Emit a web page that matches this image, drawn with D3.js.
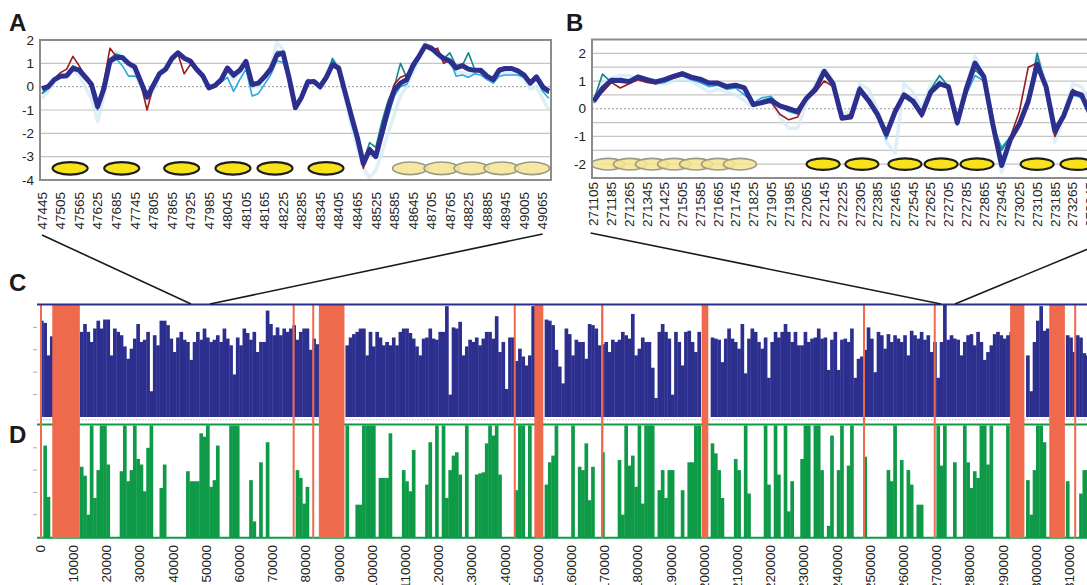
<!DOCTYPE html>
<html><head><meta charset="utf-8">
<script src="https://cdn.jsdelivr.net/npm/d3@7"></script>
<style>body{margin:0;background:#fff;overflow:hidden}svg{display:block}</style>
</head><body><svg id="c" width="1087" height="585"></svg>
<script>
// ---------- Panel A data (20 bp steps from 47445) ----------
const aStart = 47445, aStep = 20;
const aNavy = [-0.08,0.0,0.3,0.45,0.47,0.78,0.72,0.42,0.1,-0.85,
 -0.1,1.1,1.25,1.25,1.0,0.85,0.2,-0.45,0.05,0.55,
 0.75,1.2,1.45,1.22,1.1,0.75,0.47,-0.05,0.05,0.3,
 0.8,0.5,0.7,1.08,0.1,0.15,0.42,0.75,1.35,1.45,
 0.35,-0.9,-0.45,0.2,0.22,0.0,0.4,0.95,0.8,-0.2,
 -1.2,-2.15,-3.3,-2.7,-3.0,-2.0,-0.95,-0.15,0.15,0.3,
 0.9,1.3,1.75,1.65,1.42,1.2,1.1,0.8,0.9,0.75,
 0.7,0.7,0.45,0.3,0.72,0.78,0.78,0.68,0.5,0.15,
 0.42,0.0,-0.2];
const aRed = [-0.08,0.05,0.35,0.6,0.75,1.3,0.9,0.45,0.1,-0.85,
 0.2,1.65,1.3,1.2,0.95,0.8,0.1,-1.0,0.0,0.55,
 0.7,1.2,1.4,0.55,0.95,0.75,0.45,-0.05,0.05,0.3,
 0.75,0.5,0.7,1.0,0.05,0.15,0.4,0.8,1.35,1.4,
 0.4,-0.9,-0.4,0.2,0.2,0.0,0.45,0.9,0.7,-0.2,
 -1.3,-2.3,-3.5,-2.6,-2.9,-1.8,-0.8,0.1,0.4,0.5,
 0.95,1.3,1.7,1.55,1.65,1.0,1.15,0.9,0.95,0.8,
 0.7,0.7,0.5,0.35,0.75,0.85,0.8,0.7,0.5,0.2,
 0.4,0.0,-0.25];
const aTeal = [-0.3,0.0,0.3,0.5,0.5,0.9,0.75,0.4,0.0,-0.9,
 0.0,1.2,1.4,1.3,1.0,0.8,0.15,-0.5,0.1,0.6,
 0.8,1.25,1.45,1.2,1.15,0.8,0.5,-0.1,0.0,0.35,
 0.8,0.4,0.65,1.0,0.0,0.1,0.4,0.8,1.5,1.5,
 0.4,-0.9,-0.5,0.3,0.2,0.0,0.45,1.2,0.8,-0.3,
 -1.3,-2.2,-3.2,-2.4,-2.6,-1.5,-0.6,0.0,1.0,0.4,
 1.0,1.4,1.8,1.6,1.4,1.2,1.45,0.9,0.9,1.45,
 0.75,0.6,0.5,0.25,0.6,0.75,0.8,0.6,0.4,0.1,
 0.3,-0.1,-0.3];
const aCyan = [-0.3,-0.1,0.25,0.5,0.45,0.85,0.6,0.3,0.1,-1.0,
 -0.2,1.0,1.2,0.9,0.45,0.45,0.3,-0.3,0.0,0.5,
 0.7,1.1,1.4,1.2,1.0,0.7,0.4,-0.1,0.0,0.2,
 0.4,-0.2,0.3,0.75,-0.4,-0.3,0.1,0.5,1.1,1.05,
 0.3,-0.95,-0.4,0.15,0.15,-0.1,0.3,1.1,0.7,-0.3,
 -1.5,-2.4,-3.1,-2.9,-2.8,-2.2,-1.3,-0.4,0.0,0.1,
 0.7,1.2,1.8,1.7,1.4,1.3,1.2,0.45,0.5,0.4,
 0.55,0.5,0.3,0.15,0.45,0.5,0.5,0.5,0.4,0.1,
 0.35,-0.2,-0.5];
const aPale = [-0.5,-0.2,0.2,0.4,0.4,0.7,0.5,0.0,-0.5,-1.5,
 -0.4,1.0,1.5,1.3,1.0,0.6,0.0,-0.6,-0.2,0.5,
 0.8,1.3,1.5,1.3,1.1,0.8,0.5,0.0,0.1,0.3,
 0.7,0.3,0.6,1.0,0.0,0.0,0.4,0.9,1.9,1.6,
 0.5,-0.8,-0.4,0.3,0.2,-0.1,0.5,1.2,0.8,-0.4,
 -1.6,-2.6,-3.5,-3.9,-3.6,-2.8,-2.0,-1.2,-0.4,0.0,
 0.6,1.2,1.9,1.6,1.3,1.1,1.0,0.6,0.6,0.5,
 0.6,0.6,0.4,0.3,0.5,0.6,0.6,0.5,0.3,-0.1,
 0.0,-0.5,-1.0];
const aTickLabels = [47445,47505,47565,47625,47685,47745,47805,47865,47925,47985,48045,48105,48165,48225,48285,48345,48405,48465,48525,48585,48645,48705,48765,48825,48885,48945,49005,49065];
const aYTicks = [2,1,0,-1,-2,-3,-4];
const aNucStrong = [47536,47703,47897,48063,48199,48364];
const aNucFuzzy = [48636,48738,48835,48932,49031];

// ---------- Panel B data (40 bp steps from 271105) ----------
const bStart = 271105, bStep = 40;
const bNavy = [0.27,0.73,1.03,1.02,0.98,1.15,1.05,0.97,1.05,1.17,
 1.27,1.14,1.07,0.93,0.93,0.8,0.85,0.75,0.15,0.22,
 0.3,0.1,0.0,-0.1,0.38,0.7,1.35,0.9,-0.34,-0.3,
 0.7,0.3,-0.2,-0.92,-0.1,0.5,0.28,-0.2,0.6,0.9,
 0.8,-0.5,0.7,1.65,1.15,-0.55,-2.05,-1.1,-0.55,0.27,
 1.6,0.8,-0.8,-0.25,0.6,0.5,-0.2];
const bRed = [0.3,0.6,0.95,0.75,0.9,1.05,0.95,0.9,1.05,1.1,
 1.2,1.1,1.0,0.95,0.9,0.8,0.85,0.7,0.1,0.2,
 0.25,-0.2,-0.4,-0.3,0.35,0.6,1.0,0.8,-0.3,-0.2,
 0.75,0.3,-0.25,-0.95,-0.1,0.5,0.3,-0.3,0.55,0.9,
 0.8,-0.5,0.7,1.6,1.1,-0.5,-1.9,-1.0,-0.1,1.5,
 1.65,0.9,-1.0,-0.3,0.7,0.5,-0.2];
const bTeal = [0.3,1.25,0.95,1.1,1.0,1.2,1.1,1.0,1.1,1.2,
 1.25,1.1,1.05,0.9,0.9,0.8,0.85,0.7,0.1,0.3,
 0.4,0.1,0.0,-0.1,0.4,0.7,1.4,0.9,-0.3,-0.25,
 0.8,0.25,-0.3,-1.0,-0.1,0.5,0.3,-0.2,0.7,1.2,
 0.8,-0.5,0.6,1.4,1.1,-0.6,-1.5,-1.0,-0.6,0.3,
 2.0,0.8,-0.9,-0.3,0.6,0.5,-0.1];
const bCyan = [0.2,0.8,1.0,1.0,0.95,1.1,1.0,0.9,0.95,1.1,
 1.2,1.05,0.95,0.8,0.85,0.7,0.75,0.5,0.2,0.4,
 0.45,0.1,-0.1,-0.2,0.4,0.8,1.3,0.8,-0.3,-0.3,
 0.6,0.2,-0.3,-1.1,-0.1,0.4,0.2,-0.3,0.6,1.0,
 0.7,-0.6,0.5,1.2,1.0,-0.6,-1.4,-1.0,-0.6,0.2,
 1.8,0.7,-1.0,-0.3,0.5,0.4,-0.2];
const bPale = [0.3,0.9,1.1,1.2,1.2,1.1,1.0,0.9,0.9,1.0,
 1.1,1.0,0.8,0.6,0.7,0.6,0.5,0.3,0.0,0.4,
 0.3,-0.3,-0.7,-0.7,0.2,0.9,1.5,1.0,-0.2,-0.1,
 0.9,0.7,0.0,-1.2,-1.6,0.9,0.6,0.0,0.9,1.1,
 0.8,-0.4,0.8,1.9,1.2,-0.4,-2.3,-1.2,-0.6,0.2,
 2.0,0.9,-1.2,-0.3,0.9,0.8,0.2];
const bTickLabels = [271105,271185,271265,271345,271425,271505,271585,271665,271745,271825,271905,271985,272065,272145,272225,272305,272385,272465,272545,272625,272705,272785,272865,272945,273025,273105,273185,273265,273345];
const bYTicks = [2,1,0,-1,-2];
const bNucFuzzy = [271170,271269,271368,271468,271567,271666,271765];
const bNucStrong = [272140,272315,272509,272672,272834,273105,273285];

// ---------- Panels C / D (1000 bp windows) ----------
const binSize = 1000;
const cVals = [0.86,0.84,0.55,0.72,null,null,null,null,null,null,
 null,null,0.76,0.83,0.76,0.67,0.79,0.86,0.79,0.87,
 0.87,0.55,0.79,0.76,0.73,0.63,0.52,0.61,0.70,0.83,
 0.67,0.69,0.76,0.23,0.73,0.64,0.86,0.86,0.82,0.70,
 0.58,0.71,0.76,0.69,0.67,0.51,0.67,0.76,0.69,0.79,
 0.71,0.67,0.69,0.73,0.67,0.79,0.70,0.64,0.38,0.71,
 0.64,0.79,0.75,0.69,0.76,0.58,0.67,0.67,0.95,0.83,
 0.73,0.80,0.73,0.79,0.76,0.79,0.82,0.69,0.76,0.79,
 0.79,0.60,0.70,0.65,null,null,null,null,null,null,
 null,null,0.64,0.71,0.74,0.76,0.79,0.79,0.55,0.76,
 0.63,0.76,0.71,0.64,0.67,0.64,0.71,0.64,0.76,0.79,
 0.79,0.75,0.70,0.63,0.55,0.70,0.71,0.79,0.70,0.69,
 0.76,0.76,0.99,0.20,0.80,0.79,0.85,0.55,0.63,0.69,
 0.67,0.71,0.64,0.70,0.76,0.76,0.70,0.90,0.58,0.67,
 0.25,0.71,0.71,0.50,0.61,0.54,0.46,0.55,0.99,null,
 null,null,0.87,0.86,0.82,0.60,0.45,0.30,0.79,0.74,
 0.55,0.69,0.67,0.67,0.52,0.83,0.82,0.79,0.64,0.65,
 0.67,0.58,0.69,0.67,0.69,0.76,0.73,0.70,0.92,0.55,
 0.61,0.71,0.67,0.67,0.44,0.17,0.76,0.83,0.76,0.70,
 0.20,0.76,0.67,0.46,0.76,0.77,0.67,0.58,0.76,null,
 null,null,0.71,0.70,0.69,0.49,0.70,0.79,0.70,0.67,
 0.61,0.83,0.39,0.70,0.79,0.76,0.67,0.61,0.71,0.35,
 0.67,0.76,0.71,0.76,0.83,0.76,0.67,0.76,0.64,0.64,
 0.76,0.67,0.70,0.71,0.79,0.70,0.71,0.42,0.69,0.76,
 0.42,0.69,0.70,0.67,0.79,0.35,0.52,0.54,0.60,0.80,
 0.70,0.40,0.76,0.73,0.61,0.74,0.67,0.73,0.70,0.67,
 0.73,0.55,0.77,0.73,0.70,0.76,0.69,0.73,0.58,0.67,
 0.35,0.67,1.00,0.69,0.73,0.70,0.69,0.55,0.67,0.73,
 0.74,0.64,0.76,0.67,0.51,0.58,0.64,0.74,0.76,0.73,
 0.70,0.73,0.76,null,null,null,null,0.55,0.23,0.67,
 0.86,0.99,0.77,0.79,null,null,null,null,null,0.73,
 0.71,0.58,0.73,0.71,0.57,0.55];
const dVals = [0,0.82,0.36,0,null,null,null,null,null,null,
 null,null,0.63,0.55,0.2,1.0,0.35,0.6,1.0,1.0,
 0.65,0,0,0,0.59,1.0,0.5,0.6,1.0,0.7,
 0.65,0.41,0.8,1.0,0,0,0.44,0.65,0,0,
 0,0,0,0,0.59,0.5,0.5,0.5,0.93,0.9,
 1.0,0.45,0.51,0.82,0,0,0,1.0,1.0,1.0,
 0,0,0,0.51,0.14,0,0.67,0,0.85,0,
 0,0,0,0,0,0,0,0.6,0.53,0.3,
 0.45,0,0,0,null,null,null,null,null,null,
 null,null,1.0,0,0,0.29,0.29,1.0,1.0,1.0,
 1.0,0,0.53,0.53,0.53,0.93,0,0,0,0.6,
 0.5,0.41,0.78,0,0,0,0.47,0.85,0,1.0,
 0,1.0,0.35,0.6,0.73,0.76,0.56,0,1.0,0,
 0,0.56,0.57,0.58,0.84,1.0,0.91,1.0,0.56,0,
 0,0,0,0.42,1.0,1.0,0,1.0,0,null,
 null,null,0.47,0.67,0.73,1.0,0,0,0,0,
 1.0,0,0.63,0.6,0.84,0.33,0.63,0,0,0.76,
 0,0,0,0,0.69,0.2,1.0,0.64,0.73,0.45,
 1.0,0.3,1.0,1.0,1.0,0,0.42,0.6,0.35,0.6,
 0.6,0,0,0.42,0,0.67,0.67,1.0,1.0,null,
 null,null,0.84,0.75,0.6,0.35,0,0,0,0.7,
 0.6,0,1.0,0.39,0,0,0,0,1.0,0.47,
 0,1.0,0.56,0,1.0,0.23,0.5,0,0,0.7,
 1.0,1.0,0,1.0,1.0,0.6,0,0.1,0.91,0,
 0.6,1.0,0,0.64,1.0,0,0,0,0.72,0,
 0,0,0,0,0,0.6,0.5,1.0,0,0.69,
 0,0.6,0.47,0,0.29,0.29,0,0,0,0,
 1.0,0.64,1.0,0,0,0.67,0,0,1.0,0.67,
 0.44,0.59,0.53,1.0,1.0,0.65,1.0,0,0,0,
 0,1.0,0,null,null,null,null,0.51,0.2,0.6,
 1.0,1.0,0.85,0,null,null,null,null,null,0.5,
 0,0,0,0.39,0.6,0.6];
const redBands = [[0,500],[3700,12000],[76100,76700],[82000,82600],[84000,91700],[142700,143300],[148900,151600],[169000,169700],[199300,201300],[247900,248500],[269200,269800],[292200,296500],[304000,308700],[311500,312100]];
const cTickLabels = [0,10000,20000,30000,40000,50000,60000,70000,80000,90000,100000,110000,120000,130000,140000,150000,160000,170000,180000,190000,200000,210000,220000,230000,240000,250000,260000,270000,280000,290000,300000,310000];
const calloutA = [45500,51200];
const calloutB = [271390,275600];

// ---------- drawing ----------
const svg = d3.select("#c");
const FONT = '"Liberation Sans", Arial, Helvetica, sans-serif';
const NAVY = "#2c2f8d", GREEN = "#0e9a47", BAND = "#ef6a4c";

function letter(t, x, y){
  svg.append("text").attr("x",x).attr("y",y).text(t)
    .attr("font-family",FONT).attr("font-weight","bold").attr("font-size",24).attr("fill","#1a1a1a");
}

function linePanel(o){
  const g = svg.append("g");
  const clipId = "clip"+o.id;
  svg.append("clipPath").attr("id",clipId).append("rect")
    .attr("x",o.x0).attr("y",o.y0).attr("width",o.x1-o.x0).attr("height",o.y1-o.y0);
  g.append("rect").attr("x",o.x0).attr("y",o.y0).attr("width",o.x1-o.x0).attr("height",o.y1-o.y0).attr("fill","#fff");
  g.selectAll(".grid").data(o.grid).join("line")
    .attr("x1",o.x0).attr("x2",o.x1).attr("y1",d=>o.y(d)).attr("y2",d=>o.y(d))
    .attr("stroke",d=>d===0?"#9a9a9a":"#c4c4c4").attr("stroke-width",d=>d===0?1:1.2)
    .attr("stroke-dasharray",d=>d===0?"2,2":null);
  const inner = g.append("g").attr("clip-path",`url(#${clipId})`);
  inner.selectAll(".nf").data(o.nucFuzzy).join("ellipse")
    .attr("cx",d=>o.x(d)).attr("cy",o.y(o.nucY)).attr("rx",o.rx).attr("ry",o.ry)
    .attr("fill","#f4e48f").attr("fill-opacity",0.85).attr("stroke","#9a9a8a").attr("stroke-width",1.6);
  inner.selectAll(".ns").data(o.nucStrong).join("ellipse")
    .attr("cx",d=>o.x(d)).attr("cy",o.y(o.nucY)).attr("rx",o.rx).attr("ry",o.ry)
    .attr("fill","#f8e21a").attr("stroke","#1e1e1e").attr("stroke-width",2.2);
  const mk = arr => d3.line().x((d,i)=>o.x(o.start+i*o.step)).y(d=>o.y(d))(arr);
  const series = [
    [o.pale,"#d3eaf6",3.5,0.75],
    [o.cyan,"#27a8df",1.6,1],
    [o.teal,"#12878a",1.6,1],
    [o.red,"#9b1b1b",1.6,1],
    [o.navy,NAVY,5,1]];
  series.forEach(([arr,col,w,op])=>{
    inner.append("path").attr("d",mk(arr)).attr("fill","none").attr("stroke",col)
      .attr("stroke-width",w).attr("stroke-opacity",op).attr("stroke-linejoin","round");
  });
  g.append("rect").attr("x",o.x0).attr("y",o.y0).attr("width",o.x1-o.x0).attr("height",o.y1-o.y0)
    .attr("fill","none").attr("stroke","#8c8c8c").attr("stroke-width",2);
  g.selectAll(".yl").data(o.yTicks).join("text")
    .attr("x",o.yLabX).attr("y",d=>o.y(d)+4.5).attr("text-anchor","end")
    .attr("font-family",FONT).attr("font-size",13.5).attr("fill","#222").text(d=>d);
  g.selectAll(".xl").data(o.xTicks).join("text")
    .attr("transform",d=>`translate(${o.x(d)+4.8},${o.xLabY}) rotate(-90)`)
    .attr("text-anchor","end").attr("font-family",FONT).attr("font-size",13.5).attr("fill","#222")
    .text(d=>d);
}

const ax = d3.scaleLinear().domain([47445,49065]).range([42,542.6]);
const ay = d3.scaleLinear().domain([-4,2]).range([180,40]);
linePanel({id:"A",x0:40,x1:551,y0:40,y1:180,x:ax,y:ay,grid:[1,0,-1,-2,-3],
  start:aStart,step:aStep,navy:aNavy,red:aRed,teal:aTeal,cyan:aCyan,pale:aPale,
  nucStrong:aNucStrong,nucFuzzy:aNucFuzzy,nucY:-3.5,rx:17.5,ry:6.3,
  yTicks:aYTicks,yLabX:34,xTicks:aTickLabels,xLabY:192});

const bx = d3.scaleLinear().domain([271105,273265]).range([593.6,1072.6]);
const by = d3.scaleLinear().domain([-2.5,2.5]).range([178,39.5]);
linePanel({id:"B",x0:592,x1:1100,y0:39.5,y1:178,x:bx,y:by,grid:[2,1.5,1,0.5,0,-0.5,-1,-1.5,-2],
  start:bStart,step:bStep,navy:bNavy,red:bRed,teal:bTeal,cyan:bCyan,pale:bPale,
  nucStrong:bNucStrong,nucFuzzy:bNucFuzzy,nucY:-2,rx:16.5,ry:5.8,
  yTicks:bYTicks,yLabX:586,xTicks:bTickLabels,xLabY:182});

letter("A",9,31); letter("B",566,31); letter("C",9,291); letter("D",9,443);

// C / D
const cx = d3.scaleLinear().domain([0,310000]).range([40,1069.2]);
const cy = d3.scaleLinear().domain([0,1]).range([417,305]);
const dy = d3.scaleLinear().domain([0,1]).range([537,425.5]);
const bw = cx(binSize)-cx(0);
svg.append("g").selectAll("rect").data(cVals.map((v,i)=>({v,i})).filter(d=>d.v!==null&&d.v>0)).join("rect")
  .attr("x",d=>cx(d.i*binSize)).attr("width",bw+0.35)
  .attr("y",d=>cy(d.v)).attr("height",d=>cy(0)-cy(d.v)).attr("fill",NAVY);
svg.append("g").selectAll("rect").data(dVals.map((v,i)=>({v,i})).filter(d=>d.v!==null&&d.v>0)).join("rect")
  .attr("x",d=>cx(d.i*binSize)).attr("width",bw+0.35)
  .attr("y",d=>dy(d.v)).attr("height",d=>dy(0)-dy(d.v)).attr("fill",GREEN);
svg.append("line").attr("x1",37).attr("x2",1087).attr("y1",419.8).attr("y2",419.8)
  .attr("stroke","#b8b8c8").attr("stroke-width",1).attr("stroke-dasharray","1.5,1.5");
[dy(1)-1,dy(0)+0.8].forEach(y=>svg.append("line").attr("x1",37).attr("x2",1087).attr("y1",y).attr("y2",y)
  .attr("stroke",GREEN).attr("stroke-width",2));
[0.2,0.4,0.6,0.8].forEach(v=>{
  svg.append("line").attr("x1",33).attr("x2",37).attr("y1",cy(v)).attr("y2",cy(v)).attr("stroke","#aaa");
  svg.append("line").attr("x1",33).attr("x2",37).attr("y1",dy(v)).attr("y2",dy(v)).attr("stroke","#aaa");
});
svg.selectAll(".band").data(redBands).join("rect")
  .attr("x",d=>cx(d[0])).attr("width",d=>Math.max(2,cx(d[1])-cx(d[0])))
  .attr("y",304).attr("height",234).attr("fill",BAND);
svg.append("line").attr("x1",37).attr("x2",1087).attr("y1",304.5).attr("y2",304.5)
  .attr("stroke",NAVY).attr("stroke-width",2);
svg.selectAll(".cl").data(cTickLabels).join("text")
  .attr("transform",d=>`translate(${cx(d)+4.8},545) rotate(-90)`)
  .attr("text-anchor","end").attr("font-family",FONT).attr("font-size",13.5).attr("fill","#222")
  .text(d=>d);

// callout connectors
const conn = [
  [ax(aStart),235,cx(calloutA[0]),304],
  [ax(49065),234,cx(calloutA[1]),304],
  [bx(bStart)-3,233,cx(calloutB[0]),304],
  [bx(273345),248,cx(calloutB[1]),304]];
svg.selectAll(".conn").data(conn).join("line")
  .attr("x1",d=>d[0]).attr("y1",d=>d[1]).attr("x2",d=>d[2]).attr("y2",d=>d[3])
  .attr("stroke","#1a1a1a").attr("stroke-width",1.6);
</script></body></html>
